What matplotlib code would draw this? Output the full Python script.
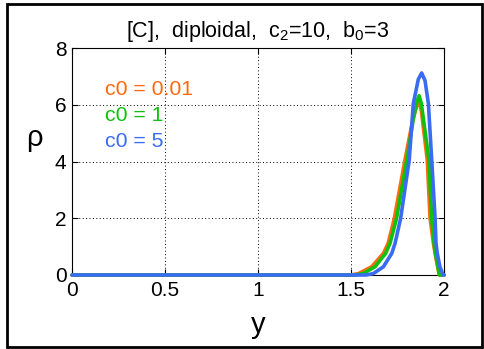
import matplotlib
matplotlib.use("Agg")
import matplotlib.pyplot as plt
from matplotlib.patches import Rectangle

plt.rcParams['font.family'] = ['Liberation Sans', 'DejaVu Sans']
plt.rcParams['mathtext.fontset'] = 'custom'
plt.rcParams['mathtext.rm'] = 'Liberation Sans'
plt.rcParams['mathtext.it'] = 'Liberation Sans'

# data
x_c001 = [0, 1.50, 1.54, 1.611, 1.674, 1.70, 1.733, 1.79, 1.83, 1.855, 1.866, 1.878, 1.91, 1.925, 1.943, 1.952, 1.966, 1.975, 2.0]
y_c001 = [0, 0, 0.05, 0.29, 0.76, 1.12, 2.0, 4.05, 5.4, 6.0, 6.1, 5.8, 4.05, 2.0, 1.12, 0.76, 0.29, 0, 0]

x_c1 = [0, 1.52, 1.565, 1.629, 1.686, 1.71, 1.745, 1.80, 1.835, 1.856, 1.866, 1.878, 1.919, 1.934, 1.946, 1.954, 1.967, 1.975, 2.0]
y_c1 = [0, 0, 0.05, 0.29, 0.76, 1.12, 2.0, 4.05, 5.5, 6.15, 6.32, 6.05, 4.05, 2.0, 1.12, 0.76, 0.29, 0, 0]

x_c5 = [0, 1.58, 1.62, 1.674, 1.719, 1.737, 1.767, 1.813, 1.835, 1.862, 1.880, 1.898, 1.916, 1.934, 1.952, 1.957, 1.964, 1.978, 1.995, 2.0]
y_c5 = [0, 0, 0.05, 0.29, 0.76, 1.12, 2.0, 4.05, 6.04, 6.9, 7.12, 6.85, 6.04, 4.05, 2.0, 1.12, 0.76, 0.29, 0, 0]

labels = ['c0 = 0.01', 'c0 = 1', 'c0 = 5']
colors = ['#ff6a10', '#10c010', '#3a6cf2']
xticks = [0, 0.5, 1, 1.5, 2]
xticklabels = ['0', '0.5', '1', '1.5', '2']
yticks = [0, 2, 4, 6, 8]

fig = plt.figure(figsize=(4.85, 3.49), dpi=100)
fig.patches.append(Rectangle((7/485, 2/349), 475/485, 343/349, transform=fig.transFigure,
                             fill=False, edgecolor='black', linewidth=2))
ax = fig.add_axes([72/485, 74/349, 372/485, 227/349])

series = [(x_c001, y_c001), (x_c1, y_c1), (x_c5, y_c5)]
for (xs, ys), c in zip(series, colors):
    ax.plot(xs, ys, color=c, linewidth=2.6, clip_on=False, zorder=3,
            solid_joinstyle='round', solid_capstyle='round')

ax.set_xlim(0, 2)
ax.set_ylim(0, 8)
ax.set_xticks(xticks)
ax.set_xticklabels(xticklabels)
ax.set_yticks(yticks)
ax.tick_params(direction='in', length=4, width=0.8, labelsize=15, top=True, right=True, pad=4)
ax.grid(True, color='black', linestyle=(0, (1, 2.5)), linewidth=0.7)
for s in ax.spines.values():
    s.set_linewidth(0.8)

ax.set_title(r'[C],  diploidal,  c$_2$=10,  b$_0$=3', fontsize=15.5, pad=8)
ax.set_xlabel('y', fontsize=21, labelpad=8)
ax.set_ylabel('ρ', fontsize=21, rotation=0, labelpad=14)
ax.yaxis.set_label_coords(-0.1, 0.54)

text_y = [6.54, 5.63, 4.69]
for lab, c, ty in zip(labels, colors, text_y):
    ax.text(0.18, ty, lab, color=c, fontsize=15.3, va='center', ha='left')

fig.savefig('out.png', dpi=100)
